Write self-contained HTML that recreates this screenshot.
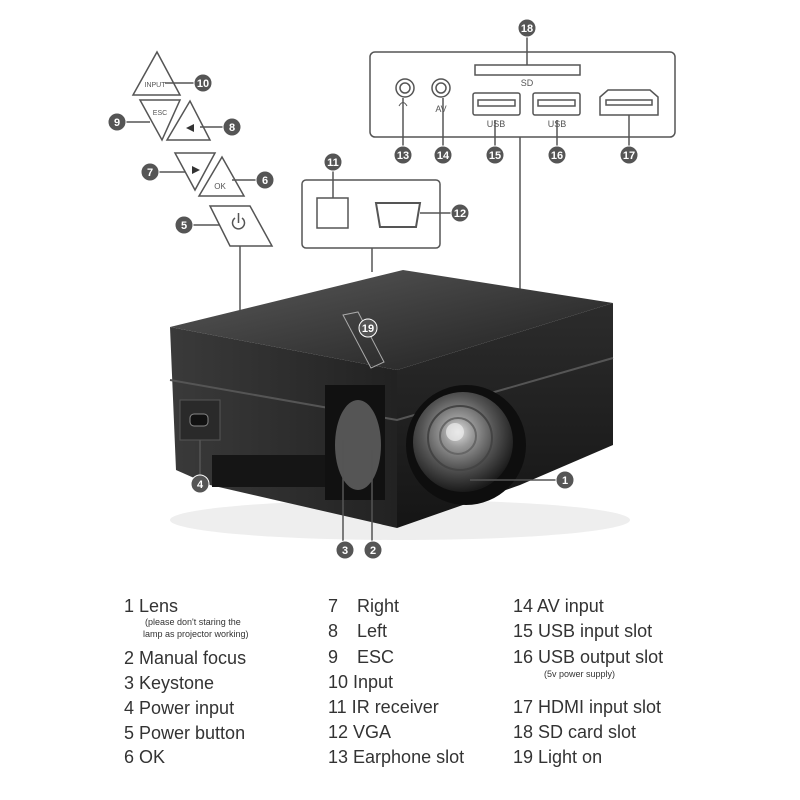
<!DOCTYPE html>
<html><head><meta charset="utf-8"><style>
html,body{margin:0;padding:0;background:#fff}
svg{display:block}
text{font-family:"Liberation Sans","DejaVu Sans",sans-serif}
</style></head><body>
<svg width="800" height="800" viewBox="0 0 800 800" xmlns="http://www.w3.org/2000/svg">
<defs>
<linearGradient id="top" x1="0" y1="0" x2="1" y2="1">
<stop offset="0" stop-color="#5a5a5a"/><stop offset="1" stop-color="#1e1e1e"/></linearGradient>
<linearGradient id="left" x1="0" y1="0" x2="1" y2="0">
<stop offset="0" stop-color="#3a3a3a"/><stop offset="1" stop-color="#222"/></linearGradient>
<linearGradient id="right" x1="0" y1="0" x2="0" y2="1">
<stop offset="0" stop-color="#2c2c2c"/><stop offset="1" stop-color="#151515"/></linearGradient>
<radialGradient id="lens" cx="0.45" cy="0.4" r="0.6">
<stop offset="0" stop-color="#ddd"/><stop offset="0.25" stop-color="#999"/><stop offset="0.6" stop-color="#555"/><stop offset="1" stop-color="#1a1a1a"/></radialGradient>
</defs>
<g stroke="#555" stroke-width="1.5" fill="none">
<rect x="370" y="52" width="305" height="85" rx="5"/>
<line x1="527" y1="36" x2="527" y2="65"/>
<rect x="475" y="65" width="105" height="10"/>
<circle cx="405" cy="88" r="9"/><circle cx="405" cy="88" r="5"/>
<circle cx="441" cy="88" r="9"/><circle cx="441" cy="88" r="5"/>
<rect x="473" y="93" width="47" height="22" rx="2"/><rect x="478" y="100" width="37" height="6"/>
<rect x="533" y="93" width="47" height="22" rx="2"/><rect x="538" y="100" width="37" height="6"/>
<path d="M600 115 L600 97 L608 90 L650 90 L658 97 L658 115 Z"/><rect x="606" y="100" width="46" height="5"/>
<line x1="403" y1="98" x2="403" y2="146"/><line x1="443" y1="98" x2="443" y2="146"/>
<line x1="495" y1="120" x2="495" y2="146"/><line x1="557" y1="120" x2="557" y2="146"/>
<line x1="629" y1="115" x2="629" y2="146"/>
<line x1="520" y1="137" x2="520" y2="290"/>
<rect x="302" y="180" width="138" height="68" rx="4"/>
<rect x="317" y="198" width="31" height="30"/>
<line x1="333" y1="170" x2="333" y2="198"/>
<path d="M376 203 L420 203 L416 227 L380 227 Z" stroke-width="2"/>
<line x1="420" y1="213" x2="451" y2="213"/>
<line x1="372" y1="248" x2="372" y2="272"/>
<path d="M133 95 L157 52 L180 95 Z"/>
<line x1="165" y1="83" x2="194" y2="83"/>
<path d="M140 100 L180 100 L162 140 Z"/>
<line x1="126" y1="122" x2="150" y2="122"/>
<path d="M167 140 L190 101 L210 140 Z"/>
<line x1="200" y1="127" x2="223" y2="127"/>
<path d="M175 153 L215 153 L195 190 Z"/>
<line x1="159" y1="172" x2="185" y2="172"/>
<path d="M199 196 L222 157 L244 196 Z"/>
<line x1="232" y1="180" x2="256" y2="180"/>
<path d="M210 206 L250 206 L272 246 L230 246 Z"/>
<line x1="193" y1="225" x2="220" y2="225"/>
<line x1="240" y1="246" x2="240" y2="318"/>
</g>
<g font-size="7" fill="#555" text-anchor="middle">
<text x="155" y="87">INPUT</text><text x="160" y="115">ESC</text>
<text x="220" y="189" font-size="8">OK</text>
<text x="527" y="86" font-size="9">SD</text>
<text x="441" y="112" font-size="9">AV</text>
<text x="496" y="127" font-size="9">USB</text><text x="557" y="127" font-size="9">USB</text>
</g>
<path d="M194 124 L186 128 L194 132 Z" fill="#333"/>
<path d="M192 166 L200 170 L192 174 Z" fill="#333"/>
<path d="M235 218 A6 6 0 1 0 242 218 M238.5 213 L238.5 223" stroke="#555" stroke-width="1.5" fill="none"/>
<path d="M399 106 Q403 99 407 106" stroke="#555" fill="none"/>
<!-- shadow -->
<ellipse cx="400" cy="520" rx="230" ry="20" fill="#eee"/>
<!-- projector -->
<path d="M170 327 L403 270 L613 303 L397 370 Z" fill="url(#top)"/>
<path d="M170 327 L397 370 L397 528 L210 485 L176 470 Z" fill="url(#left)"/>
<path d="M397 370 L613 303 L613 445 L520 485 L397 528 Z" fill="url(#right)"/>
<path d="M170 380 L397 420 L613 358" stroke="#555" stroke-width="2" fill="none"/>
<rect x="212" y="455" width="150" height="32" fill="#151515"/>
<rect x="180" y="400" width="40" height="40" fill="#2a2a2a" stroke="#555"/>
<rect x="190" y="414" width="18" height="12" rx="4" fill="#111" stroke="#888"/>
<rect x="325" y="385" width="60" height="115" fill="#111"/>
<ellipse cx="358" cy="445" rx="23" ry="45" fill="#555"/>
<circle cx="466" cy="445" r="60" fill="#0e0e0e"/>
<circle cx="463" cy="442" r="50" fill="url(#lens)"/>
<circle cx="460" cy="438" r="32" fill="none" stroke="#444" stroke-width="2"/>
<circle cx="458" cy="436" r="18" fill="none" stroke="#666" stroke-width="2"/>
<circle cx="455" cy="432" r="9" fill="#eee" opacity="0.7"/>
<path d="M343 315 L358 312 L384 362 L371 368 Z" fill="none" stroke="#aaa"/>
<g stroke="#555" stroke-width="1.5">
<line x1="200" y1="440" x2="200" y2="476"/>
<line x1="343" y1="440" x2="343" y2="542"/>
<line x1="372" y1="450" x2="372" y2="542"/>
<line x1="470" y1="480" x2="556" y2="480"/>
</g>
<g fill="#555" stroke="#fff" stroke-width="1">
<circle cx="527" cy="28" r="9"/><circle cx="403" cy="155" r="9"/><circle cx="443" cy="155" r="9"/>
<circle cx="495" cy="155" r="9"/><circle cx="557" cy="155" r="9"/><circle cx="629" cy="155" r="9"/>
<circle cx="333" cy="162" r="9"/><circle cx="460" cy="213" r="9"/>
<circle cx="203" cy="83" r="9"/><circle cx="117" cy="122" r="9"/><circle cx="232" cy="127" r="9"/>
<circle cx="150" cy="172" r="9"/><circle cx="265" cy="180" r="9"/><circle cx="184" cy="225" r="9"/>
<circle cx="200" cy="484" r="9"/><circle cx="345" cy="550" r="9"/><circle cx="373" cy="550" r="9"/>
<circle cx="565" cy="480" r="9"/><circle cx="368" cy="328" r="9"/>
</g>
<g fill="#fff" font-size="11" font-weight="bold" text-anchor="middle">
<text x="527" y="32">18</text><text x="403" y="159">13</text><text x="443" y="159">14</text>
<text x="495" y="159">15</text><text x="557" y="159">16</text><text x="629" y="159">17</text>
<text x="333" y="166">11</text><text x="460" y="217">12</text>
<text x="203" y="87">10</text><text x="117" y="126">9</text><text x="232" y="131">8</text>
<text x="150" y="176">7</text><text x="265" y="184">6</text><text x="184" y="229">5</text>
<text x="200" y="488">4</text><text x="345" y="554">3</text><text x="373" y="554">2</text>
<text x="565" y="484">1</text><text x="368" y="332">19</text>
</g>
<g font-size="18" fill="#333">
<text x="124" y="612">1 Lens</text>
<text x="145" y="625" font-size="9">(please don't staring the</text>
<text x="143" y="637" font-size="9">lamp as projector working)</text>
<text x="124" y="664">2 Manual focus</text>
<text x="124" y="689">3 Keystone</text>
<text x="124" y="714">4 Power input</text>
<text x="124" y="739">5 Power button</text>
<text x="124" y="763">6 OK</text>
<text x="328" y="612">7</text><text x="357" y="612">Right</text>
<text x="328" y="637">8</text><text x="357" y="637">Left</text>
<text x="328" y="663">9</text><text x="357" y="663">ESC</text>
<text x="328" y="688">10 Input</text>
<text x="328" y="713">11 IR receiver</text>
<text x="328" y="738">12 VGA</text>
<text x="328" y="763">13 Earphone slot</text>
<text x="513" y="612">14 AV input</text>
<text x="513" y="637">15 USB input slot</text>
<text x="513" y="663">16 USB output slot</text>
<text x="544" y="677" font-size="9">(5v power supply)</text>
<text x="513" y="713">17 HDMI input slot</text>
<text x="513" y="738">18 SD card slot</text>
<text x="513" y="763">19 Light on</text>
</g>
</svg>
</body></html>
